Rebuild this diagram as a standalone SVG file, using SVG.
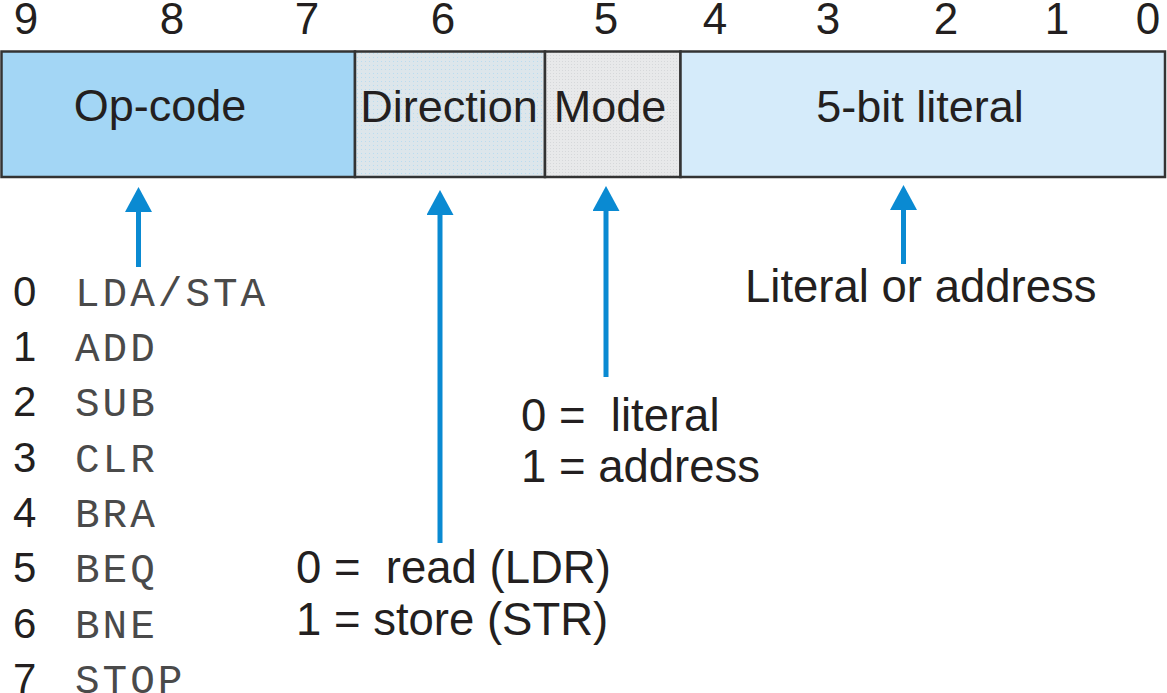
<svg xmlns="http://www.w3.org/2000/svg" width="1167" height="693" viewBox="0 0 1167 693">
  <style>
    .sans { font-family: "Liberation Sans", Arial, sans-serif; fill: #231f20; }
    .bit { font-size: 44px; text-anchor: middle; }
    .field { font-size: 45px; text-anchor: middle; }
    .lbl { font-size: 45.5px; }
    .num { font-size: 42px; }
    .mono { font-family: "Liberation Mono", "Courier New", monospace; font-size: 41px; fill: #4a4a4a; letter-spacing: 3px; }
    .box { stroke: #333333; stroke-width: 2.5; }
    .conn { stroke: #0a8ad2; stroke-width: 5; fill: none; }
  </style>
  <defs>
    <marker id="head" markerUnits="userSpaceOnUse" markerWidth="26" markerHeight="28" refX="0" refY="13.5" orient="auto" viewBox="0 0 26 28">
      <path d="M0,0 L25,13.5 L0,27 z" fill="#0a8ad2"/>
    </marker>
    <pattern id="dotsA" width="4" height="4" patternUnits="userSpaceOnUse">
      <rect width="4" height="4" fill="#dde6eb"/>
      <rect x="1" y="1" width="1" height="1" fill="#b9dcf0"/>
    </pattern>
    <pattern id="dotsB" width="3" height="3" patternUnits="userSpaceOnUse">
      <rect width="3" height="3" fill="#e8e9ea"/>
      <rect x="1" y="1" width="1" height="1" fill="#d6d8da"/>
    </pattern>
  </defs>

  <g id="bit-numbers" class="sans bit">
    <text x="26" y="34">9</text>
    <text x="172" y="34">8</text>
    <text x="307" y="34">7</text>
    <text x="443" y="34">6</text>
    <text x="606" y="34">5</text>
    <text x="715" y="34">4</text>
    <text x="828" y="34">3</text>
    <text x="946" y="34">2</text>
    <text x="1057" y="34">1</text>
    <text x="1148" y="34">0</text>
  </g>

  <g id="opcode">
    <rect class="box" x="1.5" y="51.5" width="353.5" height="125.5" fill="#a3d6f5"/>
    <text class="sans field" x="160" y="121">Op-code</text>
  </g>
  <g id="direction">
    <rect class="box" x="355" y="51.5" width="190" height="125.5" fill="url(#dotsA)"/>
    <text class="sans field" x="449" y="122">Direction</text>
  </g>
  <g id="mode">
    <rect class="box" x="545" y="51.5" width="135.5" height="125.5" fill="url(#dotsB)"/>
    <text class="sans field" x="610" y="122">Mode</text>
  </g>
  <g id="literal">
    <rect class="box" x="680.5" y="51.5" width="484.5" height="125.5" fill="#d5ebfa"/>
    <text class="sans field" x="920" y="122">5-bit literal</text>
  </g>

  <g id="connectors">
    <line class="conn" x1="138.5" y1="267" x2="138.5" y2="212" marker-end="url(#head)"/>
    <line class="conn" x1="440" y1="543" x2="440" y2="215" marker-end="url(#head)"/>
    <line class="conn" x1="606" y1="377" x2="606" y2="211" marker-end="url(#head)"/>
    <line class="conn" x1="903.5" y1="264" x2="903.5" y2="210" marker-end="url(#head)"/>
  </g>

  <g id="opcode-list">
    <g class="sans num">
      <text x="13" y="306">0</text>
      <text x="13" y="361">1</text>
      <text x="13" y="416">2</text>
      <text x="13" y="472">3</text>
      <text x="13" y="527">4</text>
      <text x="13" y="582">5</text>
      <text x="13" y="638">6</text>
      <text x="13" y="693">7</text>
    </g>
    <g class="mono">
      <text x="75" y="306">LDA/STA</text>
      <text x="75" y="361">ADD</text>
      <text x="75" y="416">SUB</text>
      <text x="75" y="472">CLR</text>
      <text x="75" y="527">BRA</text>
      <text x="75" y="582">BEQ</text>
      <text x="75" y="638">BNE</text>
      <text x="75" y="693">STOP</text>
    </g>
  </g>

  <g id="literal-label">
    <text class="sans lbl" x="745" y="302">Literal or address</text>
  </g>
  <g id="mode-label" class="sans lbl">
    <text x="521" y="431" xml:space="preserve">0 =  literal</text>
    <text x="521" y="482">1 = address</text>
  </g>
  <g id="direction-label" class="sans lbl">
    <text x="296" y="583" xml:space="preserve">0 =  read (LDR)</text>
    <text x="296" y="635">1 = store (STR)</text>
  </g>
</svg>
